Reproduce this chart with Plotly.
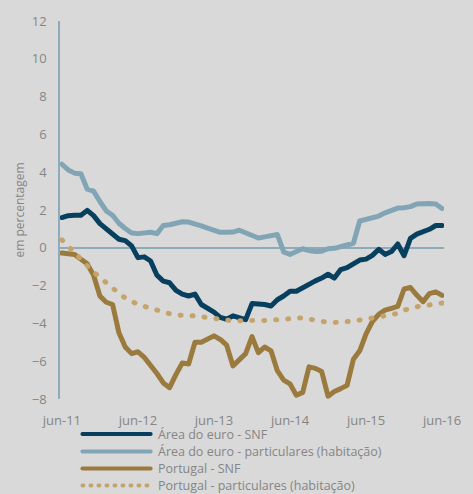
import plotly.graph_objects as go

# ---- data ----
month_names = ["jan", "fev", "mar", "abr", "mai", "jun", "jul", "ago", "set", "out", "nov", "dez"]
months = []
for k in range(61):
    m = (5 + k) % 12
    yr = 11 + (5 + k) // 12
    months.append(f"{month_names[m]}-{yr:02d}")

tick_labels = ["jun-11", "jun-12", "jun-13", "jun-14", "jun-15", "jun-16"]

euro_snf = [1.6, 1.7, 1.72, 1.72, 1.98, 1.7, 1.28, 1.0, 0.75, 0.45, 0.38, 0.1,
            -0.52, -0.48, -0.7, -1.45, -1.76, -1.85, -2.25, -2.45, -2.55, -2.45, -3.0, -3.2,
            -3.4, -3.68, -3.78, -3.6, -3.68, -3.8, -2.95, -2.96, -3.0, -3.08, -2.75, -2.55,
            -2.3, -2.3, -2.1, -1.95, -1.75, -1.6, -1.4, -1.6, -1.15, -1.05, -0.82, -0.65,
            -0.6, -0.4, -0.08, -0.35, -0.2, 0.2, -0.42, 0.5, 0.72, 0.85, 0.98, 1.18, 1.18]

euro_hh = [4.42, 4.12, 3.95, 3.92, 3.1, 3.0, 2.45, 1.95, 1.72, 1.3, 1.02, 0.78,
           0.75, 0.8, 0.82, 0.75, 1.18, 1.22, 1.3, 1.38, 1.36, 1.28, 1.16, 1.04,
           0.92, 0.82, 0.82, 0.83, 0.93, 0.8, 0.62, 0.52, 0.58, 0.65, 0.7, -0.22,
           -0.35, -0.2, -0.05, -0.15, -0.2, -0.18, -0.05, -0.03, 0.08, 0.15, 0.24, 1.42,
           1.5, 1.6, 1.68, 1.85, 2.0, 2.1, 2.12, 2.18, 2.32, 2.36, 2.35, 2.32, 2.08]

pt_snf = [-0.28, -0.3, -0.35, -0.6, -0.85, -1.45, -2.55, -2.88, -3.0, -4.5, -5.25, -5.6,
          -5.5, -5.8, -6.2, -6.65, -7.15, -7.4, -6.7, -6.1, -6.15, -5.0, -5.0, -4.8,
          -4.66, -4.85, -5.15, -6.25, -5.95, -5.6, -4.7, -5.55, -5.25, -5.45, -6.5, -7.0,
          -7.2, -7.8, -7.65, -6.3, -6.38, -6.55, -7.85, -7.6, -7.45, -7.28, -5.9, -5.45,
          -4.55, -3.9, -3.52, -3.3, -3.2, -3.1, -2.18, -2.1, -2.5, -2.85, -2.42, -2.33, -2.52]

pt_hh = [0.42, 0.1, -0.27, -0.57, -0.95, -1.28, -1.58, -1.88, -2.15, -2.41, -2.66, -2.84,
         -3.0, -3.1, -3.2, -3.32, -3.41, -3.49, -3.55, -3.59, -3.6, -3.6, -3.65, -3.7,
         -3.75, -3.82, -3.86, -3.87, -3.86, -3.84, -3.82, -3.82, -3.84, -3.83, -3.81, -3.8,
         -3.8, -3.75, -3.7, -3.77, -3.85, -3.93, -3.95, -3.95, -3.94, -3.92, -3.88, -3.82,
         -3.78, -3.74, -3.68, -3.6, -3.54, -3.47, -3.3, -3.18, -3.12, -3.08, -3.04, -2.98, -2.92]

series_names = ["Área do euro - SNF",
                "Área do euro - particulares (habitação)",
                "Portugal - SNF",
                "Portugal - particulares (habitação)"]

y_ticks = [-8, -6, -4, -2, 0, 2, 4, 6, 8, 10, 12]

# ---- styles ----
colors = ["#073f5e", "#82a5b6", "#9a7b3d", "#c4a46c"]
dashes = ["solid", "solid", "solid", "1px,11px"]
BG = "#d9d9d9"
AXIS = "#8eabbb"
TXT = "#858585"
FONT = "Open Sans"

fig = go.Figure()
for name, vals, c, d in zip(series_names, [euro_snf, euro_hh, pt_snf, pt_hh], colors, dashes):
    fig.add_trace(go.Scatter(x=months, y=vals, mode="lines", name=name,
                             line=dict(color=c, width=5, dash=d), showlegend=False,
                             hoverinfo="skip"))

# manual legend (long line samples as in the original)
leg_y = [-0.0926, -0.139, -0.184, -0.229]
for name, c, d, yy in zip(series_names, colors, ["solid", "solid", "solid", "1px,7px"], leg_y):
    fig.add_shape(type="line", xref="paper", yref="paper", x0=0.0584, x1=0.236, y0=yy, y1=yy,
                  line=dict(color=c, width=4, dash=d))
    fig.add_annotation(xref="paper", yref="paper", x=0.251, y=yy, text=name, showarrow=False,
                       xanchor="left", yanchor="middle",
                       font=dict(family=FONT, size=12.5, color=TXT))

fig.update_layout(
    width=473, height=494,
    paper_bgcolor=BG, plot_bgcolor=BG,
    margin=dict(l=60, r=19, t=21, b=95),
    font=dict(family=FONT, size=13, color=TXT),
    showlegend=False,
)
fig.update_xaxes(
    type="category", range=[-0.3, 60.3],
    tickmode="array", tickvals=tick_labels, ticktext=tick_labels,
    showgrid=False, showline=False, zeroline=False, ticks="",
    ticklabelstandoff=12,
    tickfont=dict(family=FONT, size=13, color=TXT),
)
fig.update_yaxes(
    range=[-8, 12], tickmode="array", tickvals=y_ticks,
    showgrid=False, showline=True, linecolor=AXIS, linewidth=1.5,
    zeroline=True, zerolinecolor=AXIS, zerolinewidth=1.5,
    ticks="", ticklabelstandoff=9,
    tickfont=dict(family=FONT, size=13, color=TXT),
    title=dict(text="em percentagem", standoff=5,
               font=dict(family=FONT, size=12, color=TXT)),
    automargin=False,
)

post = """
document.body.style.margin = '0';
document.body.style.background = '%s';
function roundCaps() {
  document.querySelectorAll('.js-line, .shapelayer path').forEach(function (p) {
    p.style.strokeLinecap = 'round';
    p.style.strokeLinejoin = 'round';
  });
}
roundCaps();
setTimeout(roundCaps, 50);
""" % BG

fig.write_html("out.html", post_script=post, config={"displayModeBar": False})
